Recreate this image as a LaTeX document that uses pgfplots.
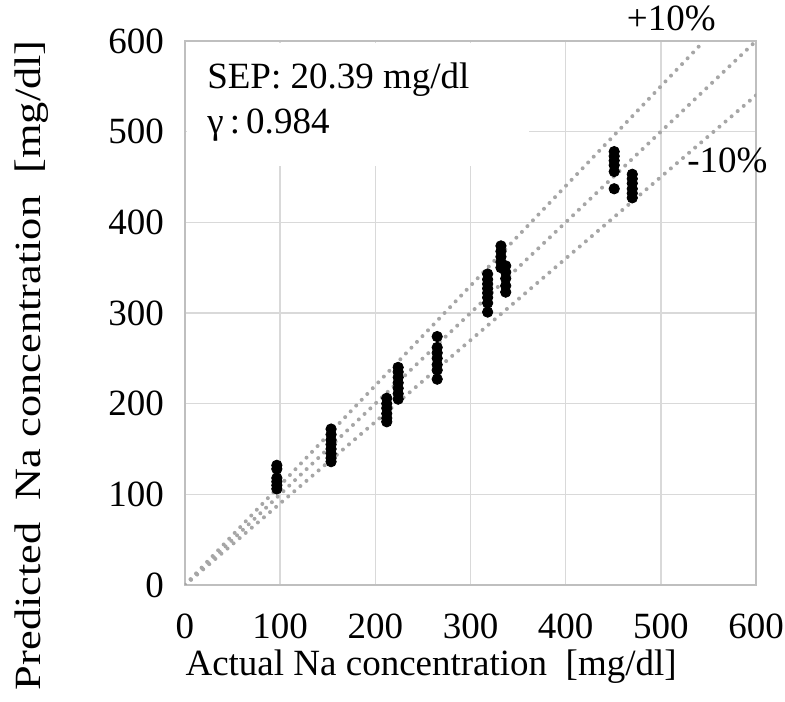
\documentclass[border=0pt]{standalone}
\usepackage{fontspec}
\setmainfont{Liberation Serif}
\usepackage{graphicx}
\usepackage{pgfplots}
\pgfplotsset{compat=1.18}
\definecolor{gridgray}{RGB}{217,217,217}
\definecolor{bordergray}{RGB}{191,191,191}
\definecolor{dotgray}{RGB}{166,166,166}
\begin{document}
\begin{tikzpicture}
\begin{axis}[
  name=ax,
  scale only axis, width=285.5pt, height=272pt,
  xmin=0, xmax=600, ymin=0, ymax=600,
  xtick={0,100,...,600}, ytick={0,100,...,600},
  grid=major, major grid style={gridgray, line width=0.75pt},
  axis line style={bordergray, line width=1pt},
  major tick length=0pt,
  /pgf/number format/assume math mode=true,
  tick label style={font=\fontsize{18.5}{20}\selectfont},
  xticklabel style={yshift=-11pt},
  yticklabel style={xshift=-7pt},
  label style={font=\fontsize{18.5}{20}\selectfont},
  xlabel={Actual Na concentration\ \ [mg/dl]},
  ylabel={\scalebox{1.2}[1]{Predicted\ \ Na concentration\ \ [mg/dl]}},
  xlabel style={at={(axis description cs:0.431,0)}, anchor=center, yshift=-41pt, inner sep=0pt},
  ylabel style={at={(axis description cs:-0.268,0.404)}, anchor=center},
  clip mode=individual,
]
\fill[white] (axis cs:2.5,462) rectangle (axis cs:361,598);
\addplot[dotgray, line width=2pt, line cap=round, dash pattern=on 0pt off 4pt] coordinates {(0,0) (600,600)};
\addplot[dotgray, line width=2pt, line cap=round, dash pattern=on 0pt off 4pt] coordinates {(0,0) (545.45,600)};
\addplot[dotgray, line width=2pt, line cap=round, dash pattern=on 0pt off 4pt] coordinates {(0,0) (600,540)};
\addplot[only marks, mark=*, mark size=2.6pt, black] coordinates {
(96.5,132)(96.5,128)(96.5,118)(96.5,114)(96.5,110)(96.5,106)
(153.5,172)(153.5,166)(153.5,160)(153.5,155)(153.5,150)(153.5,145)(153.5,140)(153.5,136)
(212,206)(212,200)(212,195)(212,189)(212,184)(212,180)
(224,240)(224,235)(224,229)(224,223)(224,217)(224,211)(224,205)
(265,274)(265,262)(265,256)(265,250)(265,243)(265,237)(265,227)
(318,343)(318,337)(318,332)(318,327)(318,322)(318,317)(318,311)(318,301)
(332,374)(332,368)(332,362)(332,356)(332,350)
(337,352)(337,345)(337,338)(337,330)(337,323)
(451,478)(451,473)(451,468)(451,463)(451,456)(451,437)
(470,453)(470,448)(470,443)(470,437)(470,432)(470,427)
};
\node[anchor=base west, font=\fontsize{18.5}{20}\selectfont, inner sep=0pt] at (axis cs:23,548) {SEP: 20.39 mg/dl};
\node[anchor=base west, font=\fontsize{18.5}{20}\selectfont, inner sep=0pt] at (axis cs:23,498) {γ\,:\,0.984};
\node[anchor=base, font=\fontsize{18.5}{20}\selectfont, inner sep=0pt] at (axis cs:511,612) {+10\%};
\node[anchor=base, font=\fontsize{18.5}{20}\selectfont, inner sep=0pt] at (axis cs:570,455) {-10\%};
\end{axis}
\pgfresetboundingbox
\path ([xshift=-92.5pt,yshift=-58.5pt]ax.south west) rectangle ([xshift=14.5pt,yshift=20.5pt]ax.north east);
\end{tikzpicture}
\end{document}
